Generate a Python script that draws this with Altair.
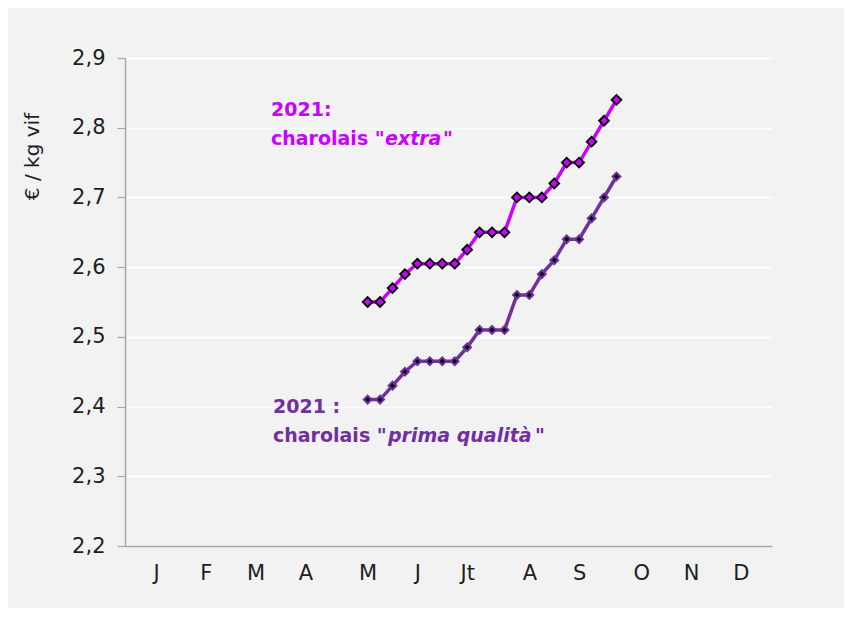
import altair as alt
import pandas as pd

# ---- data ----
weeks = list(range(20, 41))  # week numbers (1-based)
extra = [2.55, 2.55, 2.57, 2.59, 2.605, 2.605, 2.605, 2.605, 2.625, 2.65, 2.65,
         2.65, 2.70, 2.70, 2.70, 2.72, 2.75, 2.75, 2.78, 2.81, 2.84]
prima = [2.41, 2.41, 2.43, 2.45, 2.465, 2.465, 2.465, 2.465, 2.485, 2.51, 2.51,
         2.51, 2.56, 2.56, 2.59, 2.61, 2.64, 2.64, 2.67, 2.70, 2.73]
month_labels = ["J", "F", "M", "A", "M", "J", "Jt", "A", "S", "O", "N", "D"]
month_weeks = [3, 7, 11, 15, 20, 24, 28, 33, 37, 42, 46, 50]
y_ticks = [2.2, 2.3, 2.4, 2.5, 2.6, 2.7, 2.8, 2.9]

EXTRA_C = "#CC00FF"
PRIMA_C = "#7030A0"
FONT = "DejaVu Sans"
TXT = "#1e1e1e"
AX = "#a6a6a6"

tick_pos = [w - 0.5 for w in month_weeks]
label_expr = ("[" + ",".join(f"'{m}'" for m in month_labels) + "][indexof(["
              + ",".join(str(p) for p in tick_pos) + "], datum.value)]")

df_extra = pd.DataFrame({"pos": [w - 0.5 for w in weeks], "value": extra})
df_prima = pd.DataFrame({"pos": [w - 0.5 for w in weeks], "value": prima})

x_enc = alt.X(
    "pos:Q",
    scale=alt.Scale(domain=[0, 52], nice=False, zero=False),
    axis=alt.Axis(
        values=tick_pos, labelExpr=label_expr, title=None, grid=False,
        ticks=False, domainColor=AX, domainWidth=1.5, labelFont=FONT,
        labelFontSize=21, labelColor=TXT, labelPadding=16,
        labelOverlap=False, labelFlush=False,
    ),
)
y_enc = alt.Y(
    "value:Q",
    scale=alt.Scale(domain=[2.2, 2.9], nice=False, zero=False),
    axis=alt.Axis(
        values=y_ticks, labelExpr="replace(format(datum.value, '.1f'), '.', ',')",
        title="€ / kg vif", titleFont=FONT, titleFontSize=20,
        titleFontWeight="normal", titleColor=TXT, titleAngle=-90,
        titleX=-93, titleY=98, titleAlign="center", titleBaseline="middle",
        grid=True, gridColor="#ffffff", gridWidth=1.5,
        tickColor=AX, tickSize=8, tickWidth=1.2, domainColor=AX, domainWidth=1.5,
        labelFont=FONT, labelFontSize=21, labelColor=TXT, labelPadding=12,
    ),
)

line_extra = alt.Chart(df_extra).mark_line(color=EXTRA_C, strokeWidth=3.5).encode(x=x_enc, y=y_enc)
pts_extra = alt.Chart(df_extra).mark_point(
    shape="diamond", filled=True, fill=EXTRA_C, stroke="#000000", strokeWidth=1.8,
    size=95, opacity=1,
).encode(x="pos:Q", y="value:Q")

line_prima = alt.Chart(df_prima).mark_line(color=PRIMA_C, strokeWidth=3.5).encode(x="pos:Q", y="value:Q")
pts_prima = alt.Chart(df_prima).mark_point(
    shape="diamond", filled=True, fill="#000000", stroke=PRIMA_C, strokeWidth=2,
    size=60, opacity=1,
).encode(x="pos:Q", y="value:Q")


def label(text, x, y, color, italic=False):
    return alt.Chart(pd.DataFrame({"t": [text]})).mark_text(
        align="left", baseline="alphabetic", font=FONT, fontSize=19,
        fontWeight="bold", fontStyle="italic" if italic else "normal", color=color,
    ).encode(text="t:N", x=alt.value(x), y=alt.value(y))


annots = [
    label("2021:", 146, 58, EXTRA_C),
    label('charolais "', 146, 87, EXTRA_C),
    label("extra", 260, 87, EXTRA_C, italic=True),
    label('"', 318, 87, EXTRA_C),
    label("2021 :", 148, 355, PRIMA_C),
    label('charolais "', 148, 384, PRIMA_C),
    label("prima qualità", 263, 384, PRIMA_C, italic=True),
    label('"', 410, 384, PRIMA_C),
]

chart = alt.layer(line_extra, pts_extra, line_prima, pts_prima, *annots).properties(
    width=647, height=488,
    background="#f2f2f2",
    padding={"left": 117, "top": 50, "right": 72, "bottom": 62},
    autosize=alt.AutoSizeParams(type="none"),
).configure_view(stroke=None)

chart.save("out.html", embed_options={"renderer": "svg", "actions": False})
